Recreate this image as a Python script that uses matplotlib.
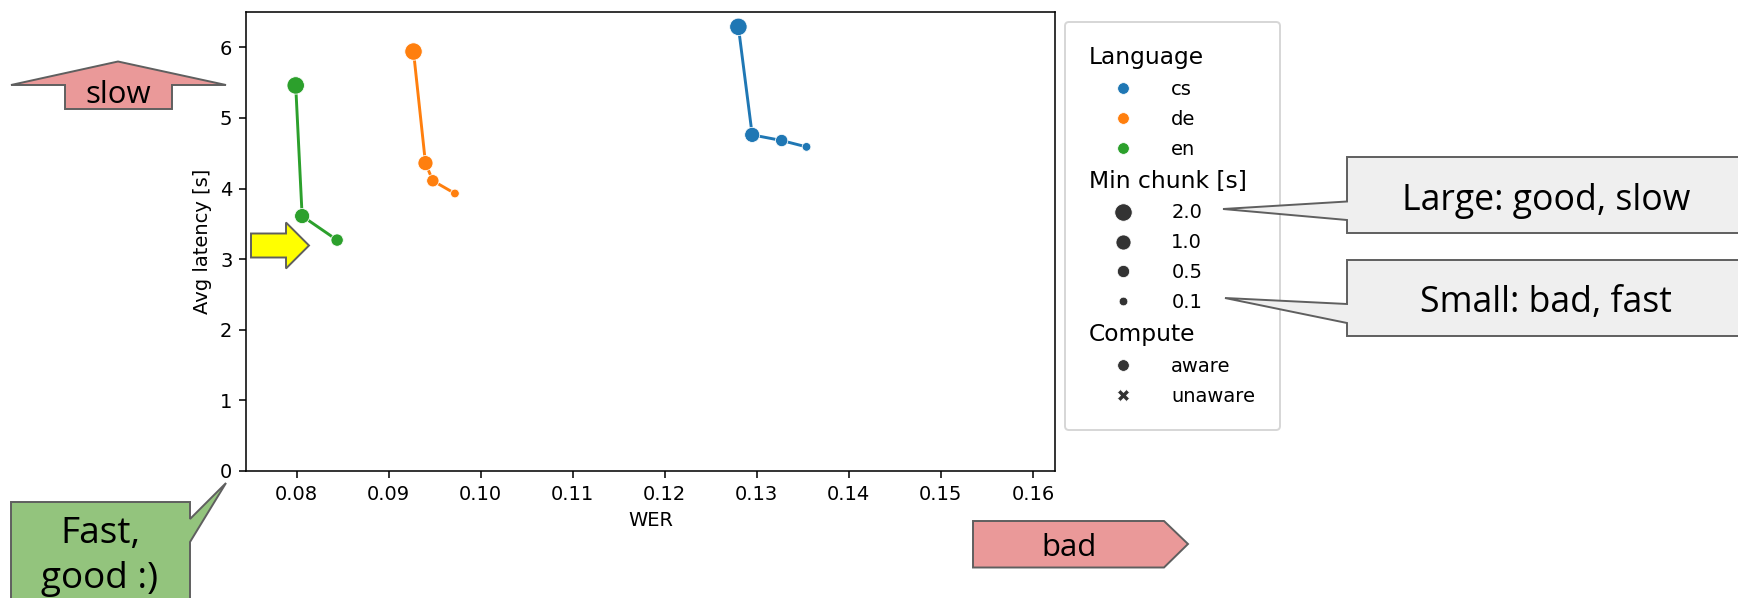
import matplotlib
matplotlib.use("Agg")
import numpy as np
import matplotlib.pyplot as plt
from matplotlib.patches import Polygon
from matplotlib.lines import Line2D
from matplotlib.offsetbox import VPacker

# data
languages = ["cs", "de", "en"]
lang_colors = ["#1f77b4", "#ff7f0e", "#2ca02c"]
chunk_levels = [2.0, 1.0, 0.5, 0.1]
compute_levels = ["aware", "unaware"]

cs_chunk = [2.0, 1.0, 0.5, 0.1]
cs_wer = [0.1280, 0.1295, 0.1327, 0.1354]
cs_lat = [6.29, 4.76, 4.68, 4.59]

de_chunk = [2.0, 1.0, 0.5, 0.1]
de_wer = [0.0927, 0.0940, 0.0948, 0.0972]
de_lat = [5.94, 4.36, 4.11, 3.93]

en_chunk = [2.0, 1.0, 0.5]
en_wer = [0.0799, 0.0806, 0.0844]
en_lat = [5.46, 3.61, 3.27]

x_ticks = [0.08, 0.09, 0.10, 0.11, 0.12, 0.13, 0.14, 0.15, 0.16]
y_ticks = [0, 1, 2, 3, 4, 5, 6]

W, H, DPI = 1738, 598, 140

# categorical size mapping, like seaborn does for ordered levels
size_range = np.linspace(80, 20, len(chunk_levels))
size_of = dict(zip(chunk_levels, size_range))

fig = plt.figure(figsize=(W / DPI, H / DPI), dpi=DPI)
ax = fig.add_axes([246 / W, 1 - 471 / H, (1055 - 246) / W, (471 - 12) / H])

series = [(cs_wer, cs_lat, cs_chunk), (de_wer, de_lat, de_chunk), (en_wer, en_lat, en_chunk)]
for (wer, lat, chunks), col in zip(series, lang_colors):
	ax.plot(wer, lat, color=col, lw=1.5, zorder=2)
	ax.scatter(wer, lat, s=[size_of[c] for c in chunks], color=col,
		edgecolor="white", linewidth=0.4, zorder=3)

ax.set_xlim(0.0745, 0.1624)
ax.set_ylim(0, 6.5)
ax.set_xticks(x_ticks)
ax.set_xticklabels(["%.2f" % t for t in x_ticks])
ax.set_yticks(y_ticks)
ax.set_xlabel("WER")
ax.set_ylabel("Avg latency [s]")

# legend with seaborn-like subtitles
def blank():
	return Line2D([], [], linestyle="", visible=False)

handles, labels = [blank()], ["Language"]
for lang, col in zip(languages, lang_colors):
	handles.append(Line2D([0], [0], marker="o", ls="", color=col, ms=6,
		markeredgecolor="white", markeredgewidth=0.4))
	labels.append(lang)
handles.append(blank()); labels.append("Min chunk [s]")
for c in chunk_levels:
	handles.append(Line2D([0], [0], marker="o", ls="", color=".2", ms=np.sqrt(size_of[c]),
		markeredgecolor="white", markeredgewidth=0.4))
	labels.append("%.1f" % c)
handles.append(blank()); labels.append("Compute")
for comp, mk in zip(compute_levels, ["o", "X"]):
	handles.append(Line2D([0], [0], marker=mk, ls="", color=".2", ms=6,
		markeredgecolor="white", markeredgewidth=0.4))
	labels.append(comp)

leg = ax.legend(handles, labels, loc="upper left", bbox_to_anchor=(1, 1),
	borderpad=1.25, handlelength=3.5, handletextpad=0.73, labelspacing=0.56)
for hpack in leg.findobj(VPacker)[0].get_children():
	draw_area, text_area = hpack.get_children()
	if not all(a.get_visible() for a in draw_area.get_children()):
		draw_area.set_width(0)
		hpack.sep = 0
		for t in text_area.get_children():
			t.set_fontsize(12)

# slide-style annotations, in figure pixels
ov = fig.add_axes([0, 0, 1, 1], zorder=10)
ov.set_xlim(0, W)
ov.set_ylim(H, 0)
ov.axis("off")
ov.patch.set_visible(False)

edge = "#5f5f5f"
ann_font = ["Open Sans", "DejaVu Sans"]

def shape(pts, fc):
	ov.add_patch(Polygon(pts, closed=True, fc=fc, ec=edge, lw=1.0, clip_on=False))

# slow (up arrow)
shape([(11, 85), (118, 61.5), (226, 85), (172, 85), (172, 109), (65, 109), (65, 85)], "#ea9999")
ov.text(118, 103, "slow", ha="center", va="baseline", fontsize=16, family=ann_font)

# yellow arrow
shape([(251, 233.5), (286, 233.5), (286, 222.5), (309, 245.5), (286, 268.5), (286, 257.5), (251, 257.5)], "#ffff00")

# Fast, good :) callout
shape([(11, 502), (190, 502), (190, 519), (226, 483), (190, 542), (190, 640), (11, 640)], "#93c47d")
ov.text(100, 543, "Fast,", ha="center", va="baseline", fontsize=19, family=ann_font)
ov.text(100, 588, "good :)", ha="center", va="baseline", fontsize=19, family=ann_font)

# bad (chevron)
shape([(973, 521), (1164, 521), (1188, 544), (1164, 567.5), (973, 567.5)], "#ea9999")
ov.text(1069, 556, "bad", ha="center", va="baseline", fontsize=16, family=ann_font)

# size callouts
shape([(1347, 157), (1760, 157), (1760, 233), (1347, 233), (1347, 220), (1223, 209), (1347, 201.5)], "#efefef")
ov.text(1546, 210, "Large: good, slow", ha="center", va="baseline", fontsize=18.3, family=ann_font)
shape([(1347, 260), (1760, 260), (1760, 336), (1347, 336), (1347, 323), (1225, 298), (1347, 304)], "#efefef")
ov.text(1546, 312, "Small: bad, fast", ha="center", va="baseline", fontsize=18.3, family=ann_font)

fig.savefig("out.png", dpi=DPI)
